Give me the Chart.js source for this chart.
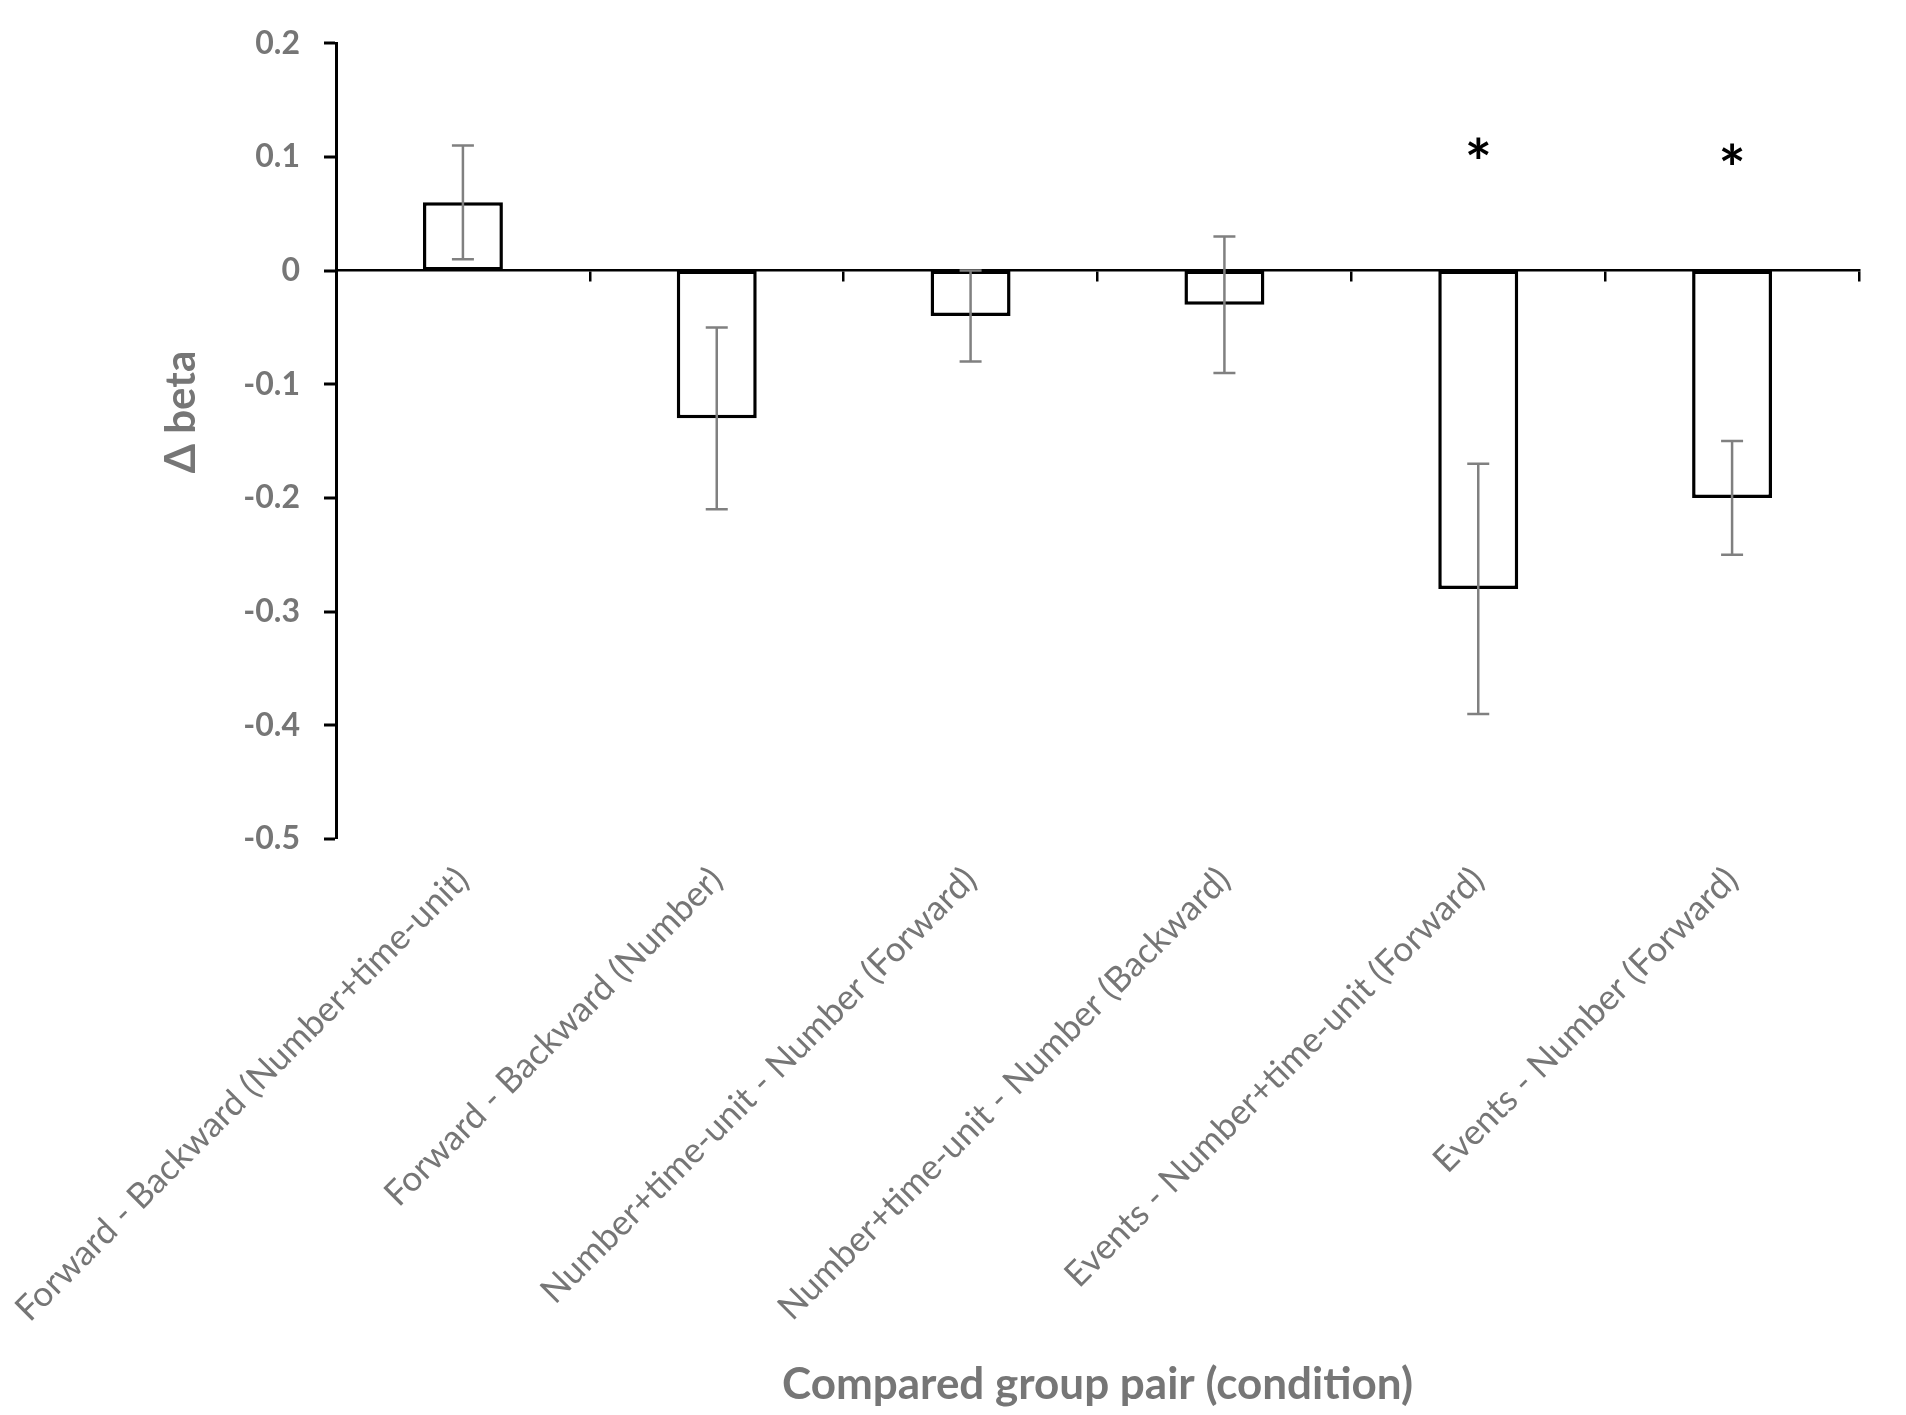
<!DOCTYPE html>
<html>
<head>
<meta charset="utf-8">
<script src="https://cdn.jsdelivr.net/npm/chart.js@4.4.1/dist/chart.umd.min.js"></script>
<style>
  body { margin: 0; background: #fff; }
  canvas { display: block; }
</style>
</head>
<body>
<canvas id="chart" width="1906" height="1415"></canvas>
<script>
// values
const categories = [
  'Forward - Backward (Number+time-unit)',
  'Forward - Backward (Number)',
  'Number+time-unit - Number (Forward)',
  'Number+time-unit - Number (Backward)',
  'Events - Number+time-unit (Forward)',
  'Events - Number (Forward)'
];
const deltaBeta = [0.06, -0.13, -0.04, -0.03, -0.28, -0.20];
const errLow = [0.01, -0.21, -0.08, -0.09, -0.39, -0.25];
const errHigh = [0.11, -0.05, 0.00, 0.03, -0.17, -0.15];
const sigMarks = ['', '', '', '', '*', '*'];
const sigLevel = [null, null, null, null, 0.104, 0.099];
const yTicks = [0.2, 0.1, 0, -0.1, -0.2, -0.3, -0.4, -0.5];

const GREY = '#767676';

// error bars drawn on top of the bars
const errorBars = {
  id: 'errorBars',
  afterDatasetsDraw(chart) {
    const { ctx, scales: { y } } = chart;
    const meta = chart.getDatasetMeta(0);
    ctx.save();
    ctx.strokeStyle = '#808080';
    ctx.lineWidth = 2.5;
    meta.data.forEach((bar, i) => {
      const lo = y.getPixelForValue(errLow[i]);
      const hi = y.getPixelForValue(errHigh[i]);
      ctx.beginPath();
      ctx.moveTo(bar.x, lo); ctx.lineTo(bar.x, hi);
      ctx.moveTo(bar.x - 11, lo); ctx.lineTo(bar.x + 11, lo);
      ctx.moveTo(bar.x - 11, hi); ctx.lineTo(bar.x + 11, hi);
      ctx.stroke();
    });
    ctx.restore();
  }
};

// significance stars + y axis title
const extras = {
  id: 'extras',
  afterDraw(chart) {
    const { ctx, scales: { y } } = chart;
    const meta = chart.getDatasetMeta(0);
    const starSize = 64;
    ctx.save();
    ctx.fillStyle = '#000';
    ctx.font = 'bold ' + starSize + 'px Lato';
    ctx.textAlign = 'center';
    ctx.textBaseline = 'middle';
    meta.data.forEach((bar, i) => {
      if (!sigMarks[i]) return;
      ctx.fillText(sigMarks[i], bar.x, y.getPixelForValue(sigLevel[i]) + starSize * 0.21);
    });

    ctx.translate(181, 412);
    ctx.rotate(-Math.PI / 2);
    ctx.fillStyle = GREY;
    ctx.font = 'bold 42px Lato';
    ctx.fillText('\u0394 beta', 0, 0);
    ctx.restore();
  }
};

const ctx = document.getElementById('chart').getContext('2d');
new Chart(ctx, {
  type: 'bar',
  data: {
    labels: categories,
    datasets: [{
      data: deltaBeta,
      backgroundColor: '#ffffff',
      borderColor: '#000000',
      borderWidth: 3.5,
      borderSkipped: false,
      barPercentage: 0.315,
      categoryPercentage: 1
    }]
  },
  options: {
    responsive: false,
    devicePixelRatio: 1,
    animation: false,
    layout: { padding: { top: 43, right: 47, bottom: 0, left: 0 } },
    plugins: {
      legend: { display: false },
      tooltip: { enabled: false }
    },
    scales: {
      x: {
        position: 'bottom',
        grid: { display: false },
        border: { display: false },
        ticks: {
          autoSkip: false,
          minRotation: 45,
          maxRotation: 45,
          padding: 12,
          color: GREY,
          font: { family: 'Lato', size: 35 }
        },
        title: {
          display: true,
          text: 'Compared group pair (condition)',
          color: GREY,
          font: { family: 'Lato', size: 44, weight: 'bold' },
          padding: { top: 0, bottom: 4 }
        },
        afterFit(scale) {
          scale.height = 576;
          scale.paddingLeft = 0;
          scale.paddingRight = 0;
        }
      },
      // zero line with tick marks between categories
      x2: {
        type: 'category',
        axis: 'x',
        labels: categories,
        position: { y: 0 },
        offset: true,
        grid: {
          offset: true,
          drawOnChartArea: false,
          tickLength: 10,
          color: '#000',
          lineWidth: 2.5
        },
        border: { color: '#000', width: 2.5 },
        ticks: { display: false },
        afterFit(scale) {
          scale.paddingLeft = 0;
          scale.paddingRight = 0;
        }
      },
      y: {
        min: -0.5,
        max: 0.2,
        afterBuildTicks(scale) {
          scale.ticks = yTicks.map(v => ({ value: v }));
        },
        grid: {
          drawOnChartArea: false,
          tickLength: 12,
          color: '#000',
          lineWidth: 0,
          tickWidth: 3
        },
        border: { color: '#000', width: 3 },
        ticks: {
          padding: 24,
          color: GREY,
          font: { family: 'Lato', size: 32, weight: 'bold' },
          callback: v => String(Math.round(v * 10) / 10)
        },
        afterFit(scale) {
          scale.width = 336;
        }
      }
    }
  },
  plugins: [errorBars, extras]
});
</script>
</body>
</html>
